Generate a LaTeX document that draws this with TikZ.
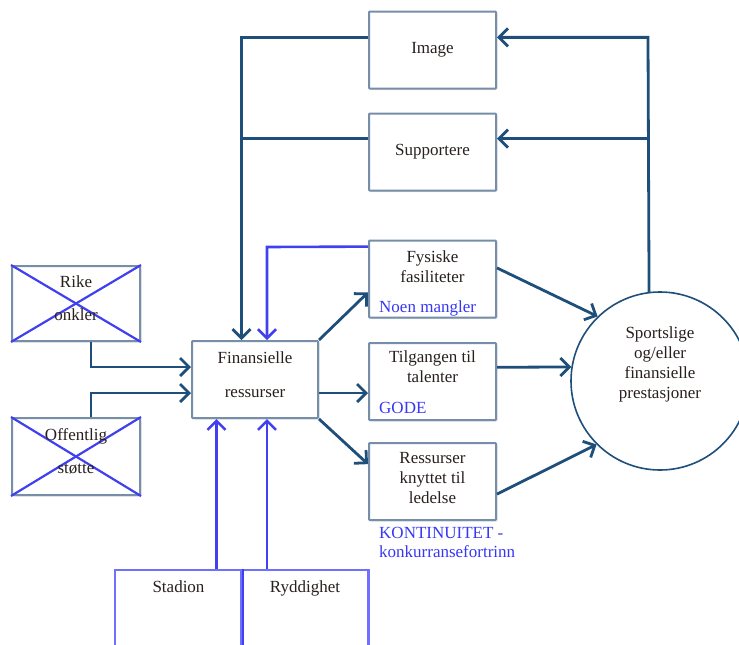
\documentclass[tikz,border=0pt]{standalone}
\usepackage{fontspec}
\setmainfont{Liberation Serif}
\usetikzlibrary{arrows.meta,shadows,calc}

\definecolor{flow}{RGB}{30,78,122}
\definecolor{frame}{RGB}{118,142,168}
\definecolor{cross}{RGB}{64,64,240}
\definecolor{note}{RGB}{55,55,245}
\definecolor{lightframe}{RGB}{112,112,255}
\definecolor{ink}{RGB}{40,32,30}

\newcommand\stacklines[1]{\begin{tabular}[t]{@{}c@{}}#1\end{tabular}}

\tikzset{
  box/.style={draw=frame, line width=2pt, fill=white, rounded corners=0.8pt,
    drop shadow={opacity=0.22, shadow xshift=1.5pt, shadow yshift=-1.5pt},
    minimum width=#1, minimum height=77pt, inner sep=0pt},
  box/.default=127pt,
  label/.style={anchor=base, inner sep=0pt, text=ink, font=\fontsize{17}{20}\selectfont},
  notetext/.style={anchor=base west, inner sep=0pt, text=note,
    font=\fontsize{17}{19}\selectfont, align=left},
  flowline/.style={draw=flow, line width=2.8pt},
  flowarrow/.style={flowline, -{Straight Barb[length=9pt,width=18pt]}},
  bluearrow/.style={draw=cross, line width=2.6pt,
    -{Straight Barb[length=9pt,width=18pt]}},
  crossline/.style={draw=cross, line width=2.2pt},
  bottombox/.style={draw=lightframe, line width=2.2pt, fill=white,
    minimum width=127pt, minimum height=100pt, inner sep=0pt}
}

\begin{document}
\begin{tikzpicture}[x=1pt,y=-1pt]
\useasboundingbox (0,0) rectangle (739,645);
\clip (0,0) rectangle (739,645);

% ---- boxes ----
\node[box] (img) at (432.5,50) {};
\node[box] (sup) at (432.5,152) {};
\node[box] (fys) at (432.5,279) {};
\node[box] (til) at (432.5,381.5) {};
\node[box] (res) at (432.5,481.5) {};
\node[box=126pt] (fin) at (255,379.5) {};
\node[box=128pt, minimum height=75pt] (rike) at (76,303.5) {};
\node[box=128pt] (off) at (76,456.5) {};
\node[bottombox] (stad) at (178.5,620) {};
\node[bottombox] (ryd) at (305,620) {};
\draw[draw=cross, line width=2.4pt] (stad.north east) -- (stad.south east);
\node[draw=flow, line width=1.6pt, circle, minimum size=178pt, inner sep=0pt, fill=white] (perf) at (660,381) {};

% ---- crossed-out boxes ----
\draw[crossline] (rike.north west) -- (rike.south east);
\draw[crossline] (rike.south west) -- (rike.north east);
\draw[crossline] (off.north west) -- (off.south east);
\draw[crossline] (off.south west) -- (off.north east);

% ---- texts ----
\node[label] (tImg) at (432.5,53) {Image};
\node[label] (tSup) at (432.5,155) {Supportere};
\node[label] (tFys) at (432.5,262) {\stacklines{Fysiske\\fasiliteter}};
\node[label] (tTil) at (432.5,362) {\stacklines{Tilgangen til\\talenter}};
\node[label] (tRes) at (432.5,463) {\stacklines{Ressurser\\knyttet til\\ledelse}};
\node[label] (tFin1) at (255,363) {Finansielle};
\node[label] (tFin2) at (255,397) {ressurser};
\node[label] (tRike1) at (76,287) {Rike};
\node[label] (tRike2) at (76,320) {onkler};
\node[label] (tOff1) at (76,440) {Offentlig};
\node[label] (tOff2) at (76,473) {støtte};
\node[label] (tStad) at (178.5,592) {Stadion};
\node[label] (tRyd) at (305,592) {Ryddighet};
\node[label] (tPerf) at (660,338) {\stacklines{Sportslige\\og/eller\\finansielle\\prestasjoner}};

\node[notetext] (nFys) at (379,312) {Noen mangler};
\node[notetext] (nTil) at (379,413) {GODE};
\node[notetext] (nRes) at (379,538) {\begin{tabular}[t]{@{}l@{}}KONTINUITET -\\konkurransefortrinn\end{tabular}};

% ---- anchor points for the feedback loops ----
\coordinate (imgL) at ($(img.north west)!0.34!(img.south west)$);
\coordinate (imgR) at ($(img.north east)!0.34!(img.south east)$);
\coordinate (supL) at ($(sup.north west)!0.33!(sup.south west)$);
\coordinate (supR) at ($(sup.north east)!0.33!(sup.south east)$);
\coordinate (loopL) at (241.5,0);
\coordinate (loopR) at (648,0);

% left loop: Image / Supportere back to Finansielle ressurser
\draw[flowarrow] (imgL) -- (loopL |- imgL) -- (loopL |- fin.north);
\draw[flowline] (supL) -- (loopL |- supL);

% right loop: performance feeds Image and Supportere
\draw[flowarrow] (perf.97.7) -- (loopR |- imgR) -- (imgR);
\draw[flowarrow] (loopR |- supR) -- (supR);

% funding inputs
\coordinate (rikeOut) at (91,0);
\draw[flowarrow] (rikeOut |- rike.south) -- (91,367) -- (fin.west |- 0,367);
\draw[flowarrow] (rikeOut |- off.north) -- (91,393) -- (fin.west |- 0,393);

% resources out of Finansielle ressurser
\draw[flowarrow] (fin.north east) -- ($(fys.north west)!0.67!(fys.south west)$);
\draw[flowarrow] (fin.east |- 0,393) -- (til.west |- 0,393);
\draw[flowarrow] (fin.south east) -- ($(res.north west)!0.28!(res.south west)$);

% resources into performance
\draw[flowarrow] ($(fys.north east)!0.36!(fys.south east)$) -- (perf.134);
\draw[flowarrow] ($(til.north east)!0.32!(til.south east)$) -- (perf.171.5);
\draw[flowarrow] ($(res.north east)!0.66!(res.south east)$) -- (perf.225);

% blue feedbacks
\draw[bluearrow] ($(fys.north west)!0.09!(fys.south west)$) -- (267,247) -- (267,0 |- fin.north);
\draw[bluearrow] (stad.north -| 216.5,0) -- (216.5,0 |- fin.south);
\draw[bluearrow] (ryd.north -| 267,0) -- (267,0 |- fin.south);
\end{tikzpicture}
\end{document}
